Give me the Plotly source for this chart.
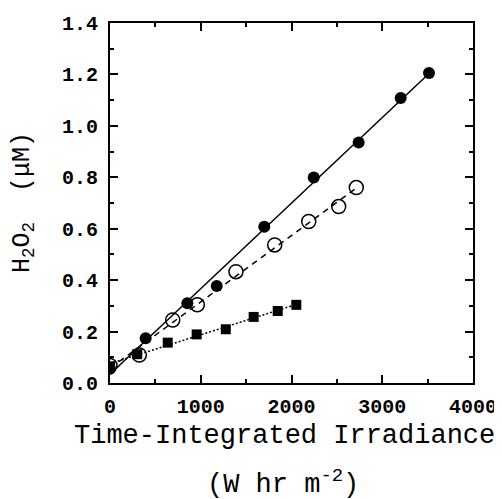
import numpy as np
import plotly.graph_objects as go

# Data
x_filled = [0, 393, 852, 1176, 1700, 2245, 2740, 3203, 3515]
y_filled = [0.055, 0.174, 0.310, 0.377, 0.608, 0.799, 0.935, 1.108, 1.206]

x_open = [0, 323, 691, 962, 1388, 1815, 2190, 2520, 2714]
y_open = [0.068, 0.109, 0.245, 0.304, 0.433, 0.537, 0.628, 0.686, 0.760]

x_square = [0, 300, 636, 955, 1276, 1583, 1848, 2053]
y_square = [0.065, 0.112, 0.157, 0.189, 0.209, 0.257, 0.280, 0.304]

x_ticks = [0, 1000, 2000, 3000, 4000]
y_ticks = [0.0, 0.2, 0.4, 0.6, 0.8, 1.0, 1.2, 1.4]

fig = go.Figure()

def fit_line(xs, ys):
    m, b = np.polyfit(xs, ys, 1)
    xx = np.array([min(xs), max(xs)])
    return xx, m * xx + b

for xs, ys, dash in [(x_filled, y_filled, "solid"),
                     (x_open, y_open, "6px,5px"),
                     (x_square, y_square, "2px,2px")]:
    fx, fy = fit_line(xs, ys)
    fig.add_trace(go.Scatter(x=fx, y=fy, mode="lines",
                             line=dict(color="black", width=1.5, dash=dash),
                             showlegend=False, hoverinfo="skip"))

fig.add_trace(go.Scatter(x=x_square, y=y_square, mode="markers",
                         marker=dict(symbol="square", size=10, color="black"),
                         showlegend=False))
fig.add_trace(go.Scatter(x=x_open, y=y_open, mode="markers",
                         marker=dict(symbol="circle-open", size=14, color="black",
                                     line=dict(width=1.5, color="black")),
                         showlegend=False))
fig.add_trace(go.Scatter(x=x_filled, y=y_filled, mode="markers",
                         marker=dict(symbol="circle", size=12, color="black"),
                         showlegend=False))

tickfont = dict(family="Liberation Mono", size=20, color="black", weight="bold")
fig.update_xaxes(range=[0, 4000], tickvals=x_ticks,
                 ticktext=[str(v) for v in x_ticks],
                 ticks="inside", ticklen=8, tickwidth=1.5, tickcolor="black",
                 minor=dict(ticks="inside", ticklen=4, dtick=500, tickcolor="black", tickwidth=1.5),
                 showline=True, linecolor="black", linewidth=2, mirror="ticks",
                 showgrid=False, zeroline=False, tickfont=tickfont,
                 automargin=False, ticklabelstandoff=4)
fig.update_yaxes(range=[0, 1.4], tickvals=y_ticks,
                 ticktext=[f"{v:.1f}" for v in y_ticks],
                 ticks="inside", ticklen=8, tickwidth=1.5, tickcolor="black",
                 minor=dict(ticks="inside", ticklen=4, dtick=0.1, tickcolor="black", tickwidth=1.5),
                 showline=True, linecolor="black", linewidth=2, mirror="ticks",
                 showgrid=False, zeroline=False, tickfont=tickfont,
                 automargin=False, ticklabelstandoff=6)

titlefont = dict(family="Liberation Mono", size=27, color="black")
fig.add_annotation(text="Time-Integrated Irradiance", x=0.5, y=0,
                   xref="paper", yref="paper", showarrow=False,
                   xanchor="center", yanchor="middle", font=titlefont,
                   xshift=-7, yshift=-53)
fig.add_annotation(text="(W hr m<sup>-2</sup>)", x=0.5, y=0,
                   xref="paper", yref="paper", showarrow=False,
                   xanchor="center", yanchor="middle", font=titlefont,
                   xshift=-9, yshift=-99)
fig.add_annotation(text="H<sub>2</sub>O<sub>2</sub>  (\u03bcM)", x=0, y=0.5,
                   xref="paper", yref="paper", showarrow=False, textangle=-90,
                   xanchor="center", yanchor="middle",
                   font=dict(family="Liberation Mono", size=25, color="black"),
                   xshift=-87)

# The page adds an 8px body margin, so the figure is sized to fit the window.
fig.update_layout(width=494, height=491, paper_bgcolor="white", plot_bgcolor="white",
                  margin=dict(l=102, r=29, t=15, b=116))

fig.write_html("out.html")
